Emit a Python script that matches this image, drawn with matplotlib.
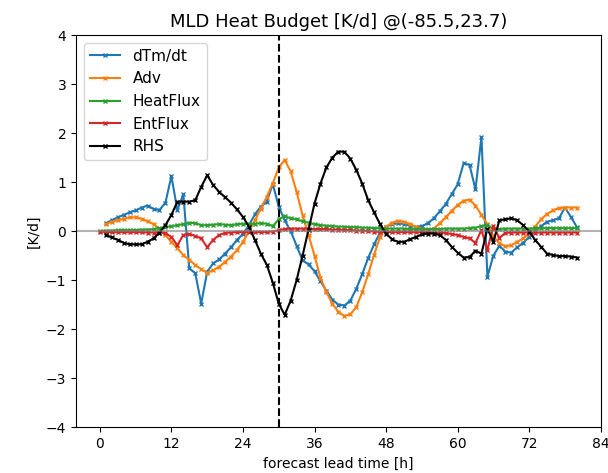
import numpy as np
import matplotlib
matplotlib.use('Agg')
import matplotlib.pyplot as plt

# forecast hours
hours_full = np.arange(0, 81)
hours = np.arange(1, 81)

# dTm/dt
dtm = [0.16, 0.22, 0.28, 0.33, 0.38, 0.42, 0.48, 0.52, 0.45, 0.43,
       0.58, 1.12, 0.43, 0.75, -0.76, -0.86, -1.48, -0.83, -0.66, -0.58,
       -0.46, -0.33, -0.18, -0.06, 0.12, 0.34, 0.50, 0.60, 0.96, 0.50,
       0.22, 0.00, -0.30, -0.60, -0.68, -0.82, -1.02, -1.22, -1.40, -1.50,
       -1.52, -1.42, -1.18, -0.88, -0.55, -0.27, -0.03, 0.09, 0.14, 0.16,
       0.14, 0.11, 0.09, 0.10, 0.16, 0.26, 0.40, 0.55, 0.75, 0.95,
       1.38, 1.35, 0.85, 1.92, -0.93, -0.50, -0.30, -0.42, -0.44, -0.33,
       -0.24, -0.12, 0.00, 0.10, 0.19, 0.22, 0.26, 0.48, 0.29, 0.08]
# advection
adv = [0.14, 0.19, 0.22, 0.25, 0.28, 0.28, 0.25, 0.20, 0.14, 0.05,
       -0.08, -0.22, -0.35, -0.49, -0.59, -0.69, -0.78, -0.85, -0.80, -0.73,
       -0.63, -0.52, -0.39, -0.22, -0.01, 0.22, 0.46, 0.70, 0.97, 1.30,
       1.45, 1.22, 0.80, 0.32, -0.08, -0.50, -0.95, -1.25, -1.48, -1.65,
       -1.73, -1.70, -1.55, -1.25, -0.88, -0.48, -0.12, 0.09, 0.17, 0.21,
       0.19, 0.14, 0.09, 0.05, 0.03, 0.05, 0.16, 0.28, 0.41, 0.53,
       0.62, 0.64, 0.52, 0.33, 0.14, -0.10, -0.25, -0.31, -0.29, -0.22,
       -0.15, -0.05, 0.09, 0.24, 0.35, 0.42, 0.47, 0.48, 0.48, 0.48]
# right hand side
rhs = [-0.08, -0.13, -0.18, -0.24, -0.27, -0.27, -0.27, -0.22, -0.15, -0.03,
       0.12, 0.33, 0.60, 0.60, 0.60, 0.63, 0.90, 1.14, 0.94, 0.80,
       0.69, 0.58, 0.44, 0.29, 0.09, -0.18, -0.46, -0.69, -1.05, -1.48,
       -1.71, -1.42, -1.00, -0.50, 0.03, 0.56, 0.97, 1.30, 1.50, 1.62,
       1.62, 1.48, 1.25, 0.97, 0.63, 0.38, 0.14, -0.05, -0.17, -0.22,
       -0.22, -0.17, -0.12, -0.07, -0.05, -0.05, -0.08, -0.18, -0.32, -0.44,
       -0.54, -0.53, -0.40, -0.46, 0.05, -0.22, 0.22, 0.24, 0.26, 0.22,
       0.12, -0.01, -0.18, -0.32, -0.46, -0.49, -0.51, -0.51, -0.52, -0.54]
# surface heat flux
heatflux = [0.00, 0.01, 0.01, 0.02, 0.02, 0.02, 0.02, 0.03, 0.03, 0.04,
            0.06, 0.08, 0.10, 0.12, 0.14, 0.17, 0.16, 0.12, 0.12, 0.13,
            0.14, 0.13, 0.12, 0.14, 0.15, 0.14, 0.15, 0.16, 0.15, 0.10,
            0.24, 0.30, 0.26, 0.24, 0.20, 0.17, 0.14, 0.12, 0.11, 0.10,
            0.09, 0.09, 0.08, 0.08, 0.07, 0.07, 0.06, 0.06, 0.05, 0.05,
            0.05, 0.05, 0.04, 0.04, 0.04, 0.04, 0.04, 0.04, 0.05, 0.05,
            0.05, 0.05, 0.06, 0.07, 0.10, 0.12, 0.05, 0.04, 0.05, 0.05,
            0.05, 0.05, 0.05, 0.06, 0.06, 0.06, 0.06, 0.06, 0.06, 0.06,
            0.06]
# entrainment flux
entflux = [-0.01, -0.02, -0.02, -0.02, -0.02, -0.02, -0.02, -0.02, -0.03, -0.03,
           -0.03, -0.04, -0.12, -0.29, -0.08, -0.06, -0.10, -0.15, -0.33, -0.18,
           -0.08, -0.04, -0.03, -0.02, -0.02, -0.02, -0.02, -0.02, -0.02, -0.01,
           0.02, 0.04, 0.05, 0.05, 0.05, 0.05, 0.04, 0.04, 0.04, 0.03,
           0.03, 0.02, 0.02, 0.01, 0.01, 0.00, -0.01, -0.02, -0.02, -0.02,
           -0.02, -0.02, -0.02, -0.02, -0.02, -0.02, -0.03, -0.03, -0.04, -0.06,
           -0.08, -0.12, -0.15, -0.24, 0.02, -0.38, 0.10, -0.14, -0.04, -0.03,
           -0.03, -0.03, -0.03, -0.03, -0.03, -0.03, -0.03, -0.03, -0.03, -0.03,
           -0.03]

fig = plt.figure(figsize=(6.08, 4.73), dpi=100)
ax = fig.add_axes([0.125, 0.097, 0.863, 0.829])

ax.plot(hours, dtm, '-x', markersize=3, label='dTm/dt')
ax.plot(hours, adv, '-x', markersize=3, label='Adv')
ax.plot(hours_full, heatflux, '-x', markersize=3, label='HeatFlux')
ax.plot(hours_full, entflux, '-x', markersize=3, label='EntFlux')
ax.plot(hours, rhs, '-x', color='k', markersize=3, label='RHS')
ax.axhline(0, color='grey', alpha=0.6, lw=1.5)
ax.axvline(30, color='k', ls='--', lw=1.5)

ax.set_ylim(-4, 4)
ax.set_xticks(np.arange(0, 85, 12))
ax.set_title('MLD Heat Budget [K/d] @(-85.5,23.7)', fontsize=13)
ax.set_xlabel('forecast lead time [h]')
ax.set_ylabel('[K/d]')
ax.legend(loc='upper left', fontsize=11)

plt.savefig('out.png', dpi=100)
